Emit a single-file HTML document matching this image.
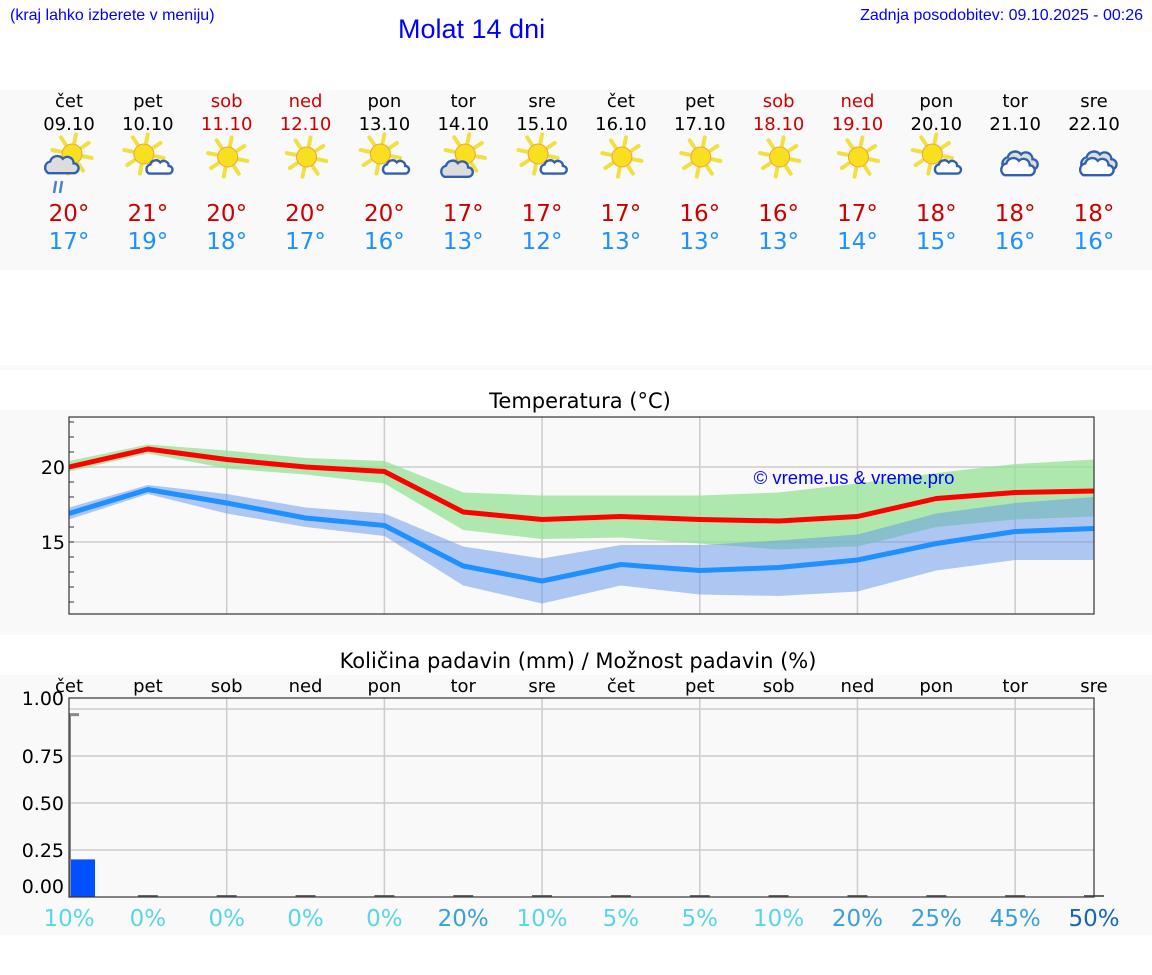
<!DOCTYPE html>
<html><head><meta charset="utf-8">
<style>
html,body{margin:0;padding:0;background:#fff;}
body{width:1152px;height:975px;position:relative;overflow:hidden;font-family:"DejaVu Sans","Liberation Sans",sans-serif;}
.hdr{position:absolute;font-family:"Liberation Sans",sans-serif;color:#0000ff;}
</style></head>
<body>
<div class="hdr" style="left:10px;top:7px;font-size:16px;">(kraj lahko izberete v meniju)</div>
<div class="hdr" style="left:398px;top:14px;font-size:27px;">Molat 14 dni</div>
<div class="hdr" style="right:9px;top:7px;font-size:16px;">Zadnja posodobitev: 09.10.2025 - 00:26</div>
<svg id="svg" width="1152" height="975" style="position:absolute;left:0;top:0"></svg>
<script>
const days=["čet","pet","sob","ned","pon","tor","sre","čet","pet","sob","ned","pon","tor","sre"];
const dates=["09.10","10.10","11.10","12.10","13.10","14.10","15.10","16.10","17.10","18.10","19.10","20.10","21.10","22.10"];
const weekend=[0,0,1,1,0,0,0,0,0,1,1,0,0,0];
const icons=["rain","partly","sun","sun","partly","partlyL","partly","sun","sun","sun","sun","partly","cloud","cloud"];
const maxT=[20,21,20,20,20,17,17,17,16,16,17,18,18,18];
const minT=[17,19,18,17,16,13,12,13,13,13,14,15,16,16];
const redLine=[20,21.2,20.5,20,19.7,17,16.5,16.7,16.5,16.4,16.7,17.9,18.3,18.4];
const greenHi=[20.4,21.5,21.1,20.6,20.4,18.3,18.1,18.1,18.1,18.3,18.9,19.6,20.2,20.5];
const greenLo=[19.7,20.9,19.9,19.5,18.9,15.8,15.2,15.3,14.9,14.5,14.7,16,16.5,16.7];
const blueLine=[16.9,18.5,17.6,16.6,16.1,13.4,12.4,13.5,13.1,13.3,13.8,14.9,15.7,15.9];
const blueHi=[17.3,18.8,18.2,17.3,16.9,14.7,13.9,14.8,14.8,15.1,15.5,16.9,17.6,18];
const blueLo=[16.5,18.2,16.9,16,15.4,12.1,10.9,12.1,11.5,11.4,11.7,13.1,13.8,13.8];
const tempTicks=[15,20];
const precip=[0.2,0,0,0,0,0,0,0,0,0,0,0,0,0];
const precipMax=[0.97];
const prob=[10,0,0,0,0,20,10,5,5,10,20,25,45,50];
const precipTicks=["0.00","0.25","0.50","0.75","1.00"];

const S=document.getElementById('svg');const NS='http://www.w3.org/2000/svg';
function mk(tag,at,parent,txt){const e=document.createElementNS(NS,tag);for(const k in at)e.setAttribute(k,at[k]);if(txt!==undefined)e.textContent=txt;(parent||S).appendChild(e);return e;}
const X0=69,X1=1094;
const xs=i=>X0+i*(X1-X0)/13;
let b;
b=mk('rect',{x:0,y:90,width:1152,height:180,fill:'#f9f9f9'});


mk('rect',{x:0,y:365,width:1152,height:5,fill:'#f9f9f9'});
b=mk('rect',{x:0,y:410,width:1152,height:225,fill:'#f9f9f9'});


b=mk('rect',{x:0,y:675,width:1152,height:260,fill:'#f9f9f9'});



function sun(g,cx,cy,r){
  for(let k=0;k<8;k++){const a=k*Math.PI/4+0.2;mk('line',{x1:cx+Math.cos(a)*(r+3),y1:cy+Math.sin(a)*(r+3),x2:cx+Math.cos(a)*(r+11),y2:cy+Math.sin(a)*(r+11),stroke:'#f0e040','stroke-width':4,'stroke-linecap':'round'},g);}
  mk('circle',{cx,cy,r:r+1,fill:'#f8e020',stroke:'#f0a030','stroke-width':1},g);
}
function cloud(g,cx,cy,s,fill){
  const p=`M${cx-14*s},${cy+8*s} a${7*s},${7*s} 0 0 1 ${2*s},${-13*s} a${8*s},${8*s} 0 0 1 ${14*s},${-3*s} a${7*s},${7*s} 0 0 1 ${12*s},${5*s} a${5*s},${5*s} 0 0 1 ${0},${11*s} z`;
  mk('path',{d:p,fill:fill,stroke:'#3060b0','stroke-width':2.4},g);
}
for(let i=0;i<14;i++){
  const x=xs(i);const col=weekend[i]?'#cc0000':'#000';
  const g=mk('g',{});
  
  
  mk('text',{x,y:107,'text-anchor':'middle','font-size':18,fill:col},g,days[i]);
  mk('text',{x,y:130,'text-anchor':'middle','font-size':18,fill:col},g,dates[i]);
  const ic=mk('g',{},g);
  
  
  const t=icons[i];
  if(t==='sun')sun(ic,x+1,157,9);
  else if(t==='partly'){sun(ic,x-4,154,9);cloud(ic,x+11,168,0.7,'#fff');}
  else if(t==='partlyL'){sun(ic,x+2,154,9);cloud(ic,x-7,170,0.85,'#ddd');}
  else if(t==='rain'){sun(ic,x+3,154,9);cloud(ic,x-8,166,0.9,'#ddd');mk('line',{x1:x-13,y1:181,x2:x-15,y2:193,stroke:'#5080c0','stroke-width':2.5},ic);mk('line',{x1:x-7,y1:181,x2:x-9,y2:193,stroke:'#5080c0','stroke-width':2.5},ic);}
  else {cloud(ic,x+4,162,0.95,'#ddd');cloud(ic,x+2,168,0.9,'#fff');}
  const tm=mk('text',{x,y:221,'text-anchor':'middle','font-size':23,fill:'#cc0000'},g,maxT[i]+'°');
  
  
  const tn=mk('text',{x,y:249,'text-anchor':'middle','font-size':23,fill:'#1e90ff'},g,minT[i]+'°');
  
  
}
const TY0=417,TY1=614;
const ty=v=>467+(20-v)*15;
let tt=mk('text',{x:580,y:408,'text-anchor':'middle','font-size':21,fill:'#000'},S,'Temperatura (°C)');


mk('rect',{x:X0,y:TY0,width:X1-X0,height:TY1-TY0,fill:'#f9f9f9'});
for(let i=2;i<13;i+=2)mk('line',{x1:xs(i),x2:xs(i),y1:TY0,y2:TY1,stroke:'#ccc','stroke-width':1.5});
tempTicks.forEach(v=>{mk('line',{x1:X0,x2:X1,y1:ty(v),y2:ty(v),stroke:'#ccc','stroke-width':1.5});
  const l=mk('text',{x:X0-4,y:ty(v)+7,'text-anchor':'end','font-size':19,fill:'#000'},S,String(v));
  
  });
for(let v=11;v<=23;v++){mk('line',{x1:X0,x2:X0+5,y1:ty(v),y2:ty(v),stroke:'#333','stroke-width':1});}
function band(hi,lo,fill,name){const pts=hi.map((v,i)=>xs(i)+','+ty(v)).concat(lo.map((v,i)=>xs(i)+','+ty(v)).reverse());
  const p=mk('polygon',{points:pts.join(' '),fill});}
band(greenHi,greenLo,'rgba(150,225,150,0.75)','max-temp-range');
band(blueHi,blueLo,'rgba(100,150,235,0.5)','min-temp-range');
function line(v,c,name){const p=mk('polyline',{points:v.map((a,i)=>xs(i)+','+ty(a)).join(' '),fill:'none',stroke:c,'stroke-width':5,'stroke-linejoin':'round'});}
line(blueLine,'#1e90ff','min-temp-line');
line(redLine,'#ff0000','max-temp-line');
mk('rect',{x:X0,y:TY0,width:X1-X0,height:TY1-TY0,fill:'none',stroke:'#333','stroke-width':1.2});
let wm=mk('text',{x:854,y:484,'text-anchor':'middle','font-size':18.5,fill:'#0000ff','font-family':'Liberation Sans, sans-serif'},S,'© vreme.us & vreme.pro');


const PY0=698,PY1=897;
const py=v=>897-v*188;
let pt=mk('text',{x:578,y:668,'text-anchor':'middle','font-size':21,fill:'#000'},S,'Količina padavin (mm) / Možnost padavin (%)');


for(let i=0;i<14;i++){const l=mk('text',{x:xs(i),y:692,'text-anchor':'middle','font-size':18,fill:'#000'},S,days[i]);
  
  }
mk('rect',{x:X0,y:PY0,width:X1-X0,height:PY1-PY0,fill:'#f9f9f9'});
for(let i=2;i<13;i+=2)mk('line',{x1:xs(i),x2:xs(i),y1:PY0,y2:PY1,stroke:'#ccc','stroke-width':1.5});
precipTicks.forEach((s,k)=>{const v=parseFloat(s);if(v>0)mk('line',{x1:X0,x2:X1,y1:py(v),y2:py(v),stroke:'#ccc','stroke-width':1.5});
  const yy=v===0?893:v===1?705:py(v)+7;
  const l=mk('text',{x:64,y:yy,'text-anchor':'end','font-size':19,fill:'#000'},S,s);
  
  });
for(let i=0;i<14;i++){
  if(precip[i]>0){const r=mk('rect',{x:xs(i)+1,y:py(precip[i]),width:25,height:PY1-py(precip[i]),fill:'#0050ff'});
    
    }
  else{const r=mk('rect',{x:xs(i)-10,y:PY1-2,width:20,height:2,fill:'#666'});
    
    }
}
mk('line',{x1:X0+1,x2:X0+1,y1:py(precipMax[0]),y2:PY1,stroke:'#888','stroke-width':2});
mk('line',{x1:X0,x2:X0+10,y1:py(precipMax[0]),y2:py(precipMax[0]),stroke:'#888','stroke-width':3});
mk('rect',{x:X0,y:PY0,width:X1-X0,height:PY1-PY0,fill:'none',stroke:'#333','stroke-width':1.2});
function pcol(p){return p>=50?'#1a64b8':p>=20?'#3aa0dc':'#5ad6e6';}
for(let i=0;i<14;i++){const l=mk('text',{x:xs(i),y:926,'text-anchor':'middle','font-size':23,fill:pcol(prob[i])},S,prob[i]+'%');
  
  }
</script>
</body></html>
